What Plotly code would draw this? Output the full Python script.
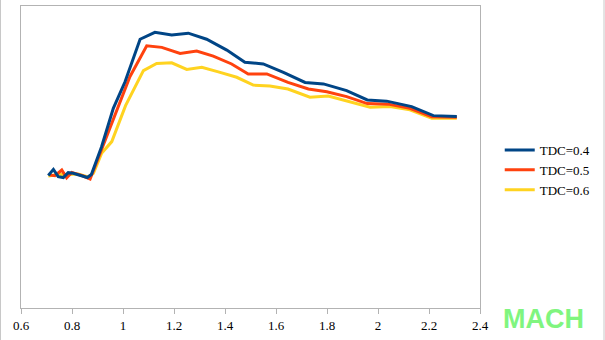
import plotly.graph_objects as go

# Mach numbers and (unlabelled) response values
mach_04 = [0.707, 0.727, 0.746, 0.766, 0.785, 0.805, 0.860, 0.876, 0.916, 0.962, 1.008, 1.067,
           1.125, 1.191, 1.256, 1.328, 1.407, 1.478, 1.550, 1.629, 1.714, 1.786, 1.877, 1.958,
           2.034, 2.132, 2.217, 2.309]
tdc_04 = [0.439, 0.459, 0.435, 0.432, 0.448, 0.446, 0.432, 0.442, 0.534, 0.661, 0.749, 0.890,
          0.913, 0.904, 0.910, 0.890, 0.854, 0.814, 0.808, 0.780, 0.747, 0.742, 0.720, 0.689,
          0.685, 0.667, 0.637, 0.634]

mach_05 = [0.714, 0.733, 0.760, 0.779, 0.799, 0.844, 0.871, 0.923, 0.982, 1.027, 1.093, 1.152,
           1.224, 1.289, 1.354, 1.426, 1.491, 1.564, 1.647, 1.727, 1.799, 1.877, 1.958, 2.040,
           2.125, 2.211, 2.309]
tdc_05 = [0.440, 0.438, 0.457, 0.431, 0.449, 0.437, 0.427, 0.540, 0.667, 0.766, 0.868, 0.863,
          0.843, 0.851, 0.834, 0.808, 0.775, 0.775, 0.747, 0.725, 0.716, 0.700, 0.677, 0.675,
          0.661, 0.633, 0.632]

mach_06 = [0.707, 0.745, 0.784, 0.824, 0.863, 0.884, 0.916, 0.956, 1.010, 1.080, 1.132, 1.191,
           1.250, 1.309, 1.374, 1.446, 1.511, 1.576, 1.647, 1.733, 1.805, 1.884, 1.969, 2.047,
           2.125, 2.211, 2.309]
tdc_06 = [0.437, 0.442, 0.442, 0.444, 0.434, 0.446, 0.512, 0.551, 0.670, 0.786, 0.810, 0.812,
          0.790, 0.797, 0.782, 0.764, 0.738, 0.735, 0.725, 0.698, 0.702, 0.685, 0.665, 0.667,
          0.656, 0.628, 0.628]

series_names = ["TDC=0.4", "TDC=0.5", "TDC=0.6"]
x_ticks = [0.6, 0.8, 1, 1.2, 1.4, 1.6, 1.8, 2, 2.2, 2.4]
x_tick_labels = ["0.6", "0.8", "1", "1.2", "1.4", "1.6", "1.8", "2", "2.2", "2.4"]

colors = ["#004586", "#ff420e", "#ffd320"]
serif = "'Times New Roman', 'DejaVu Serif', serif"

fig = go.Figure()
for xs, ys, name, c in zip([mach_04, mach_05, mach_06], [tdc_04, tdc_05, tdc_06],
                           series_names, colors):
    fig.add_trace(go.Scatter(x=xs, y=ys, mode="lines", name=name,
                             line=dict(color=c, width=3)))

# draw order: yellow at back, blue on top
fig.data = fig.data[::-1]

fig.update_layout(
    width=605, height=340,
    margin=dict(l=21, r=125, t=6, b=32),
    paper_bgcolor="white", plot_bgcolor="white",
    font=dict(family=serif, size=13, color="black"),
    showlegend=True,
    legend=dict(x=1.043, xanchor="left", y=0.457, yanchor="middle",
                traceorder="reversed", font=dict(family=serif, size=13),
                bgcolor="rgba(0,0,0,0)", itemwidth=30, tracegroupgap=0),
    xaxis=dict(range=[0.6, 2.4], tickvals=x_ticks, ticktext=x_tick_labels,
               showgrid=False, zeroline=False, showline=True, linecolor="#b3b3b3",
               linewidth=1, mirror=True, ticks="outside", ticklen=5, tickcolor="#b3b3b3",
               tickfont=dict(family=serif, size=13)),
    yaxis=dict(range=[0, 1], showticklabels=False, showgrid=False, zeroline=False,
               showline=True, linecolor="#b3b3b3", linewidth=1, mirror=True, ticks=""),
    annotations=[dict(text="<b>MACH</b>", xref="paper", yref="paper",
                      x=(543 - 21) / 459, y=(308 - 319) / 302,
                      xanchor="center", yanchor="middle", showarrow=False,
                      font=dict(family="Arial, 'Liberation Sans', sans-serif", size=27,
                                color="#80f57f"))],
    shapes=[
        dict(type="line", xref="paper", yref="paper",
             x0=-21 / 459 + 0.5 / 459, x1=-21 / 459 + 0.5 / 459, y0=-32 / 302, y1=1 + 6 / 302,
             line=dict(color="#c8c8c8", width=1)),
        dict(type="line", xref="paper", yref="paper",
             x0=(604 - 21) / 459, x1=(604 - 21) / 459, y0=-32 / 302, y1=1 + 6 / 302,
             line=dict(color="#c8c8c8", width=1)),
    ],
)

fig.write_html("out.html")
